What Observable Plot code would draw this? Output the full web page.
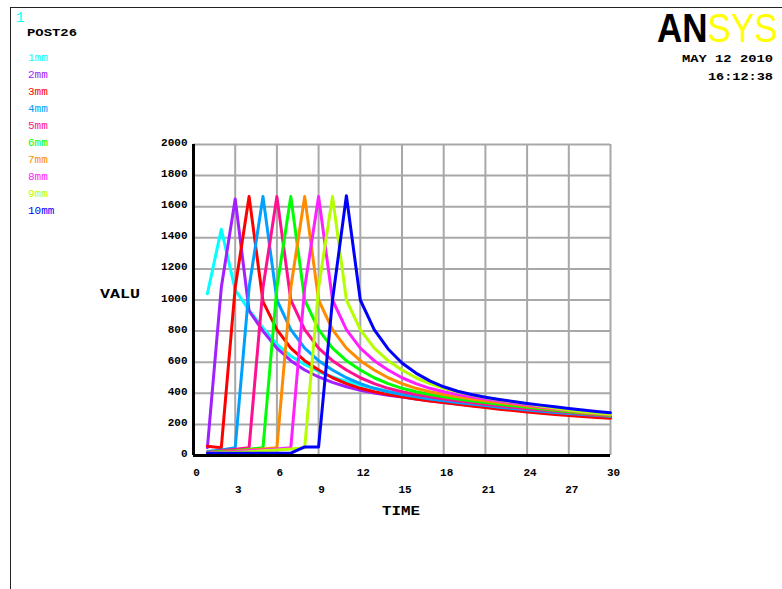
<!DOCTYPE html>
<html><head><meta charset="utf-8">
<script src="https://cdn.jsdelivr.net/npm/d3@7"></script>
<script src="https://cdn.jsdelivr.net/npm/@observablehq/plot@0.6"></script>
<style>
body{margin:0;background:#fff;}
#wrap{position:relative;width:782px;height:589px;overflow:hidden;background:#fff;}
#wrap svg{position:absolute;left:0;top:0;}
</style></head><body><div id="wrap"></div>
<script>
// ---- data ----
const times = [1,2,3,4,5,6,7,8,9,10,11,12,13,14,15,16,17,18,19,20,21,22,23,24,25,26,27,28,29,30];
const seriesNames = ["1mm","2mm","3mm","4mm","5mm","6mm","7mm","8mm","9mm","10mm"];
const seriesColors = ["#00ffff","#a020ff","#ff0000","#00a0ff","#ff1090","#00ff00","#ff8c00","#ff20ff","#b4ff00","#0000ff"];
const mm1  = [1040,1455,1065,935,820,715,640,585,540,505,476,452,432,412,395,380,366,353,342,332,322,312,303,294,286,278,270,263,256,250];
const mm2  = [50,1080,1650,930,800,690,610,550,505,470,442,420,402,388,376,364,352,341,331,321,312,303,295,287,280,273,266,260,254,248];
const mm3  = [60,50,1080,1665,990,810,690,610,550,500,462,432,410,392,377,363,351,340,329,318,308,298,289,280,272,264,257,251,245,240];
const mm4  = [25,35,50,1080,1665,1000,810,690,610,550,500,462,432,410,392,377,364,352,341,331,321,311,302,293,285,277,270,264,258,252];
const mm5  = [20,30,40,50,1080,1665,1000,810,690,610,550,500,462,432,410,392,377,364,352,341,330,320,310,301,292,284,276,268,261,255];
const mm6  = [20,25,30,40,50,1080,1665,1000,810,690,610,550,500,462,432,410,392,377,364,352,341,330,320,310,300,291,282,273,265,258];
const mm7  = [20,22,28,35,42,50,1080,1665,1000,810,690,610,550,500,462,432,410,392,377,364,352,340,329,318,307,297,287,277,269,261];
const mm8  = [18,20,24,30,36,42,50,1080,1665,1000,810,690,610,550,500,462,432,410,392,377,363,350,338,326,314,302,291,281,272,264];
const mm9  = [15,17,20,24,30,36,42,50,1080,1665,1000,810,690,610,550,500,462,432,410,390,373,358,345,332,318,305,292,282,273,266];
const mm10 = [15,15,15,15,15,15,15,55,55,1000,1670,1000,810,685,595,530,480,442,413,392,375,360,347,335,324,313,302,292,283,275];
const seriesValues = [mm1,mm2,mm3,mm4,mm5,mm6,mm7,mm8,mm9,mm10];
const yTicks = [0,200,400,600,800,1000,1200,1400,1600,1800,2000];
const xGrid = [0,3,6,9,12,15,18,21,24,27,30];
const xTicksRow1 = [0,6,12,18,24,30];
const xTicksRow2 = [3,9,15,21,27];

const rows = [];
seriesNames.forEach((name, i) => {
  seriesValues[i].forEach((v, j) => rows.push({series: name, t: times[j], v}));
});

const chart = Plot.plot({
  width: 782, height: 589,
  marginLeft: 193, marginRight: 172, marginTop: 144, marginBottom: 134,
  x: {domain: [0, 30]},
  y: {domain: [0, 2000]},
  color: {domain: seriesNames, range: seriesColors},
  style: {fontFamily: "'Liberation Mono', monospace", fontSize: "11px", fontWeight: "bold", color: "#000", background: "transparent"},
  marks: [
    Plot.gridX(xGrid, {stroke: "#a8a8a8", strokeOpacity: 1, strokeWidth: 2}),
    Plot.gridY(yTicks, {stroke: "#a8a8a8", strokeOpacity: 1, strokeWidth: 2}),
    Plot.axisY(yTicks, {tickSize: 0, tickPadding: 6, label: null, dy: -2, tickFormat: d => String(d)}),
    Plot.axisX(xTicksRow1, {tickSize: 0, tickPadding: 13, label: null, dx: 3, tickFormat: d => String(d)}),
    Plot.axisX(xTicksRow2, {tickSize: 0, tickPadding: 30, label: null, dx: 3, tickFormat: d => String(d)}),
    Plot.line(rows, {x: "t", y: "v", z: "series", stroke: "series", strokeWidth: 3}),
    Plot.ruleX([0], {stroke: "#000", strokeWidth: 3}),
    Plot.ruleY([0], {stroke: "#000", strokeWidth: 3})
  ]
});
document.getElementById("wrap").appendChild(chart);

// ---- annotation overlay (text, legend, logo, frame) ----
const ov = d3.create("svg").attr("width", 782).attr("height", 589)
  .style("pointer-events", "none");
ov.append("line").attr("x1", 10).attr("y1", 7.5).attr("x2", 782).attr("y2", 7.5).attr("stroke", "#222").attr("stroke-width", 1);
ov.append("line").attr("x1", 10.5).attr("y1", 7).attr("x2", 10.5).attr("y2", 589).attr("stroke", "#222").attr("stroke-width", 1);

const mono = "'Liberation Mono', monospace";
ov.append("text").attr("x", 16).attr("y", 22).attr("fill", "#00ffff")
  .style("font", `14px ${mono}`).text("1");
ov.append("text").attr("x", 27).attr("y", 36).attr("fill", "#000")
  .attr("textLength", 50).attr("lengthAdjust", "spacingAndGlyphs")
  .style("font", `bold 11px ${mono}`).text("POST26");

seriesNames.forEach((name, i) => {
  ov.append("text").attr("x", 28).attr("y", 61 + i * 17).attr("fill", seriesColors[i])
    .style("font", `11px ${mono}`).text(name);
});

ov.append("text").attr("x", 773).attr("y", 62).attr("text-anchor", "end")
  .attr("textLength", 91).attr("lengthAdjust", "spacingAndGlyphs")
  .style("font", `bold 11px ${mono}`).text("MAY 12 2010");
ov.append("text").attr("x", 773).attr("y", 80).attr("text-anchor", "end")
  .attr("textLength", 65).attr("lengthAdjust", "spacingAndGlyphs")
  .style("font", `bold 11px ${mono}`).text("16:12:38");

// ANSYS logo as one text with two coloured parts
const logo = ov.append("text").attr("transform", "translate(657,42) scale(1,1.15)")
  .attr("x", 0).attr("y", 0).style("font-family", "'Liberation Sans', sans-serif").style("font-size", "35px");
logo.append("tspan").attr("fill", "#000").style("font-weight", "900").text("AN");
logo.append("tspan").attr("fill", "#ffff00").style("font-weight", "normal").text("SYS");

ov.append("text").attr("x", 100).attr("y", 298)
  .attr("textLength", 40).attr("lengthAdjust", "spacingAndGlyphs")
  .style("font", `bold 13px ${mono}`).text("VALU");
ov.append("text").attr("x", 382).attr("y", 515)
  .attr("textLength", 38).attr("lengthAdjust", "spacingAndGlyphs")
  .style("font", `bold 13px ${mono}`).text("TIME");

document.getElementById("wrap").appendChild(ov.node());
</script>
</body></html>
